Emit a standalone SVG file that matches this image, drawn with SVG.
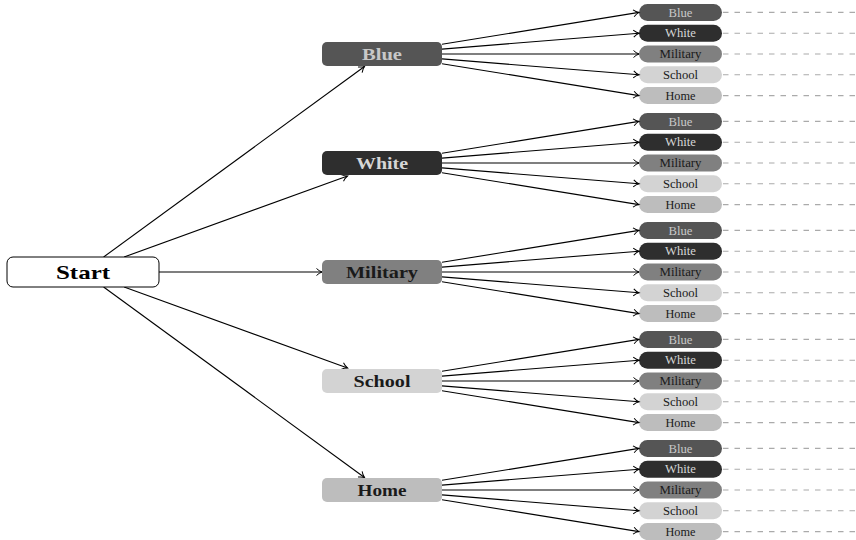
<svg xmlns="http://www.w3.org/2000/svg" width="856" height="540" viewBox="0 0 856 540">
<defs>
<marker id="arr" markerWidth="10" markerHeight="10" refX="7" refY="5" orient="auto" markerUnits="userSpaceOnUse">
<path d="M1.5,1.5 Q4,4 7,5 Q4,6 1.5,8.5" fill="none" stroke="#000" stroke-width="1"/>
</marker>
<style>
text{font-family:"Liberation Serif","DejaVu Serif",serif;text-anchor:middle}
.mid{font-size:17px;font-weight:bold}
.leaf{font-size:11.5px}
.e{stroke:#000;stroke-width:1.1;fill:none;marker-end:url(#arr)}
.d{stroke:#aaa;stroke-width:1.1;stroke-dasharray:5.5 6;fill:none}
.cB{fill:#555555}.tB{fill:#c8c8c8}
.cW{fill:#2e2e2e}.tW{fill:#d6d6d6}
.cM{fill:#808080}.tM{fill:#1a1a1a}
.cS{fill:#d3d3d3}.tS{fill:#1a1a1a}
.cH{fill:#bdbdbd}.tH{fill:#1a1a1a}
</style>
<g id="leafset">
<rect class="cB" x="639" y="-50.1" width="83" height="17" rx="8.5"/>
<text class="leaf tB" x="680.5" y="-37.5" textLength="24" lengthAdjust="spacingAndGlyphs">Blue</text>
<rect class="cW" x="639" y="-29.3" width="83" height="17" rx="8.5"/>
<text class="leaf tW" x="680.5" y="-16.7" textLength="31" lengthAdjust="spacingAndGlyphs">White</text>
<rect class="cM" x="639" y="-8.5" width="83" height="17" rx="8.5"/>
<text class="leaf tM" x="680.5" y="4.1" textLength="42" lengthAdjust="spacingAndGlyphs">Military</text>
<rect class="cS" x="639" y="12.3" width="83" height="17" rx="8.5"/>
<text class="leaf tS" x="680.5" y="24.9" textLength="35" lengthAdjust="spacingAndGlyphs">School</text>
<rect class="cH" x="639" y="33.1" width="83" height="17" rx="8.5"/>
<text class="leaf tH" x="680.5" y="45.7" textLength="30" lengthAdjust="spacingAndGlyphs">Home</text>
<path class="d" d="M723,-41.6H856M723,-20.8H856M723,0H856M723,20.8H856M723,41.6H856"/>
<path class="e" d="M442,-9.7L639,-41.6"/>
<path class="e" d="M442,-4.86L639,-20.8"/>
<path class="e" d="M442,0L639,0"/>
<path class="e" d="M442,4.86L639,20.8"/>
<path class="e" d="M442,9.7L639,41.6"/>
</g>
</defs>
<g id="connectors">
<path class="e" d="M103.6,257L364.5,66.5"/>
<path class="e" d="M124.1,257L347.5,176"/>
<path class="e" d="M159,272L322,272"/>
<path class="e" d="M124.1,287L347.5,368"/>
<path class="e" d="M103.6,287L364.5,477.5"/>
</g>
<g id="start">
<rect x="7" y="257" width="152" height="30" rx="6" fill="#fff" stroke="#000" stroke-width="1"/>
<text x="83" y="279" style="font-size:19px;font-weight:bold" textLength="54" lengthAdjust="spacingAndGlyphs">Start</text>
</g>
<g id="blue">
<rect class="cB" x="322" y="42" width="120" height="24" rx="5"/>
<text class="mid tB" x="382" y="60" textLength="40" lengthAdjust="spacingAndGlyphs">Blue</text>
<use href="#leafset" y="54"/>
</g>
<g id="white">
<rect class="cW" x="322" y="151" width="120" height="24" rx="5"/>
<text class="mid tW" x="382" y="169" textLength="52" lengthAdjust="spacingAndGlyphs">White</text>
<use href="#leafset" y="163"/>
</g>
<g id="military">
<rect class="cM" x="322" y="260" width="120" height="24" rx="5"/>
<text class="mid tM" x="382" y="278" textLength="72" lengthAdjust="spacingAndGlyphs">Military</text>
<use href="#leafset" y="272"/>
</g>
<g id="school">
<rect class="cS" x="322" y="369" width="120" height="24" rx="5"/>
<text class="mid tS" x="382" y="387" textLength="57" lengthAdjust="spacingAndGlyphs">School</text>
<use href="#leafset" y="381"/>
</g>
<g id="home">
<rect class="cH" x="322" y="478" width="120" height="24" rx="5"/>
<text class="mid tH" x="382" y="496" textLength="49" lengthAdjust="spacingAndGlyphs">Home</text>
<use href="#leafset" y="490"/>
</g>
</svg>
